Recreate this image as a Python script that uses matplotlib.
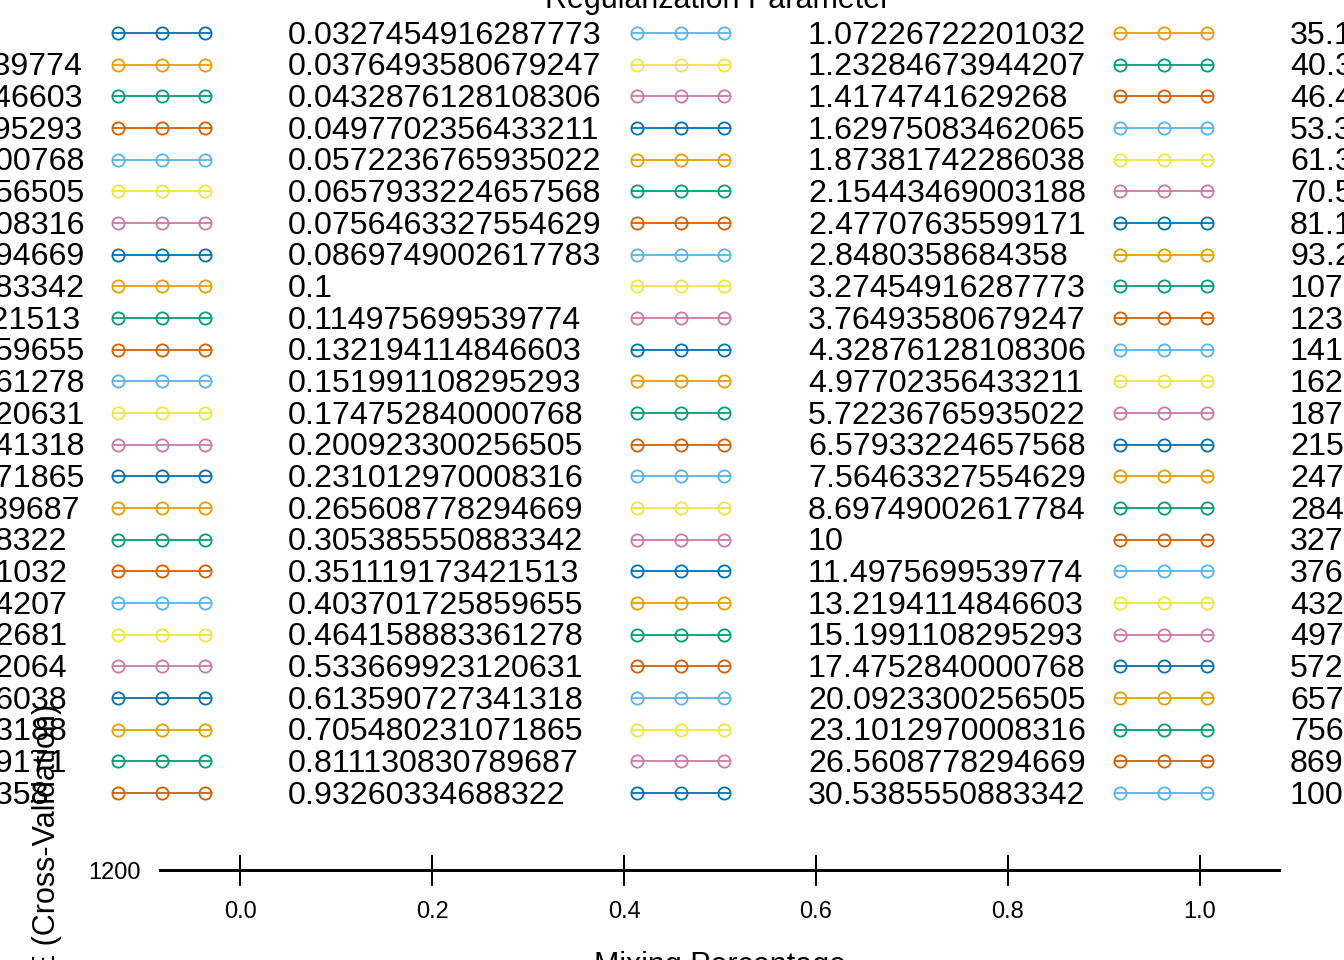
import matplotlib
matplotlib.use("Agg")
import matplotlib.pyplot as plt
from matplotlib.lines import Line2D

plt.rcParams['font.family'] = ['Liberation Sans', 'DejaVu Sans']

# Regularization parameter values (legend labels), as printed in the legend
lambda_labels = [
    "0.001", "0.00114975699539774", "0.00132194114846603", "0.00151991108295293",
    "0.00174752840000768", "0.00200923300256505", "0.00231012970008316",
    "0.00265608778294669", "0.00305385550883342", "0.00351119173421513",
    "0.00403701725859655", "0.00464158883361278", "0.00533669923120631",
    "0.00613590727341318", "0.00705480231071865", "0.00811130830789687",
    "0.0093260334688322", "0.0107226722201032", "0.0123284673944207",
    "0.0141747416292681", "0.0162975083462064", "0.0187381742286038",
    "0.0215443469003188", "0.0247707635599171", "0.028480358684358",
    "0.0327454916287773", "0.0376493580679247", "0.0432876128108306",
    "0.0497702356433211", "0.0572236765935022", "0.0657933224657568",
    "0.0756463327554629", "0.0869749002617783", "0.1", "0.114975699539774",
    "0.132194114846603", "0.151991108295293", "0.174752840000768",
    "0.200923300256505", "0.231012970008316", "0.265608778294669",
    "0.305385550883342", "0.351119173421513", "0.403701725859655",
    "0.464158883361278", "0.533669923120631", "0.613590727341318",
    "0.705480231071865", "0.811130830789687", "0.93260334688322",
    "1.07226722201032", "1.23284673944207", "1.4174741629268", "1.62975083462065",
    "1.87381742286038", "2.15443469003188", "2.47707635599171", "2.8480358684358",
    "3.27454916287773", "3.76493580679247", "4.32876128108306", "4.97702356433211",
    "5.72236765935022", "6.57933224657568", "7.56463327554629", "8.69749002617784",
    "10", "11.4975699539774", "13.2194114846603", "15.1991108295293",
    "17.4752840000768", "20.0923300256505", "23.1012970008316", "26.5608778294669",
    "30.5385550883342",
    "35.1119173421513", "40.3701725859655", "46.4158883361278", "53.3669923120631",
    "61.3590727341318", "70.5480231071865", "81.1130830789687", "93.260334688322",
    "107.226722201032", "123.284673944207", "141.747416292681", "162.975083462064",
    "187.381742286038", "215.443469003188", "247.707635599171", "284.80358684358",
    "327.454916287773", "376.493580679247", "432.876128108306", "497.702356433211",
    "572.236765935022", "657.933224657568", "756.463327554629", "869.749002617783",
    "1000",
]

# colour cycle of the series
palette = ["#0072B2", "#E69F00", "#009E73", "#D55E00", "#56B4E9", "#F0E442", "#CC79A7"]

# x axis (mixing percentage) ticks and y tick
x_ticks = [0.0, 0.2, 0.4, 0.6, 0.8, 1.0]
x_ticklabels = ["0.0", "0.2", "0.4", "0.6", "0.8", "1.0"]
y_ticks = [1200]

W, H = 1344, 960
fig = plt.figure(figsize=(W / 100, H / 100), dpi=100)

def fx(px):
    return px / W

def fy(py):
    return 1 - py / H

# --- collapsed panel -------------------------------------------------------
ax = fig.add_axes([fx(160), fy(870.5), fx(1280) - fx(160), 0.5 / H])
ax.set_xlim(-0.0834, 1.0834)
ax.set_ylim(1199.5, 1200.5)
for s in ax.spines.values():
    s.set_linewidth(1.4)
ax.set_xticks(x_ticks)
ax.set_xticklabels(x_ticklabels)
ax.set_yticks(y_ticks)
ax.set_yticklabels([str(v) for v in y_ticks])
ax.tick_params(axis='x', which='both', top=True, bottom=True, direction='out',
               length=11, width=1.4, labelsize=17, pad=11)
ax.tick_params(axis='y', which='both', left=True, right=False, length=0,
               labelsize=17, pad=14)

fig.text(fx(720), fy(951), "Mixing Percentage", ha='center', va='top', fontsize=22)
fig.text(fx(47), fy(1042), "RMSE (Cross-Validation)", ha='center', va='bottom',
         rotation=90, fontsize=22)

# --- legend (text then key, 4 columns x 25 rows) ---------------------------
fig.text(fx(718), fy(8), "Regularization Parameter", ha='center', va='baseline',
         fontsize=22)

n_rows = 25
row_y0, row_dy = 33.0, 31.667
col_text_x = [-246, 288, 808, 1290]
col_key_x = [113, 632, 1115, 1635]
key_len = 97

for i, lab in enumerate(lambda_labels):
    c, r = divmod(i, n_rows)
    y = row_y0 + r * row_dy
    fig.text(fx(col_text_x[c]), fy(y + 10.5), lab, ha='left', va='baseline',
             fontsize=23.2)
    col = palette[i % len(palette)]
    x0 = col_key_x[c]
    fig.add_artist(Line2D([fx(x0), fx(x0 + key_len)], [fy(y), fy(y)],
                          transform=fig.transFigure, color=col, lw=1.3))
    fig.add_artist(Line2D([fx(x0 + 5), fx(x0 + key_len / 2), fx(x0 + key_len - 5)],
                          [fy(y)] * 3, transform=fig.transFigure, ls='none',
                          marker='o', markersize=8.8, markerfacecolor='none',
                          markeredgecolor=col, markeredgewidth=1.3))

fig.savefig("out.png", dpi=100)
